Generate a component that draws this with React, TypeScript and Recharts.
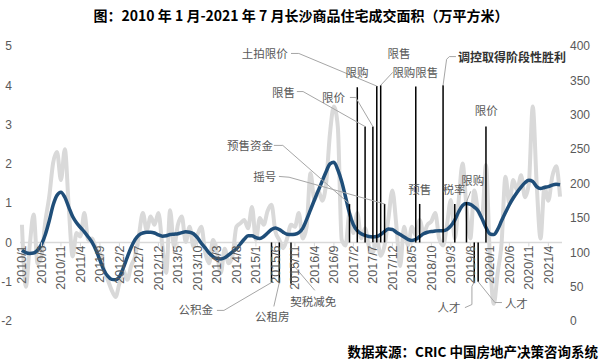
import React from 'react';
import { ComposedChart, Line, XAxis, YAxis, ReferenceLine, ReferenceDot } from 'recharts';

// monthly volume, 2010/1 - 2021/7 (right axis, 万平方米)
const volume = [
  140, 50, 110, 155, 84, 95, 145, 181, 230, 246, 205, 250,
  166, 94, 128, 123, 157, 118, 120, 105, 99, 75, 60, 45,
  35, 55, 74, 60, 80, 94, 125, 157, 132, 152, 140, 157,
  110, 70, 161, 108, 140, 152, 115, 137, 108, 125, 137, 100,
  84, 118, 99, 70, 105, 84, 95, 137, 142, 147, 135, 166,
  118, 150, 140, 160, 169, 130, 118, 106, 120, 140, 137, 157,
  120, 137, 215, 176, 190, 175, 200, 273, 312, 283, 118, 110,
  157, 128, 157, 120, 135, 108, 100, 120, 95, 110, 150, 190,
  140, 80, 137, 110, 137, 125, 147, 128, 140, 145, 157, 120,
  110, 140, 176, 120, 175, 229, 166, 120, 190, 160, 152, 227,
  94, 25, 70, 113, 210, 170, 205, 190, 212, 180, 200, 312,
  200, 120, 195, 175, 210, 225, 181,
];

// smoothed trend (left axis)
const trend = [
  -0.2, -0.26, -0.28, -0.27, -0.2, -0.05, 0.2, 0.55, 0.95, 1.2, 1.28, 1.15,
  0.9, 0.66, 0.5, 0.38, 0.27, 0.14, 0.0, -0.2, -0.45, -0.7, -0.86, -0.94,
  -0.95, -0.87, -0.65, -0.38, -0.13, 0.07, 0.19, 0.24, 0.26, 0.26, 0.24, 0.19,
  0.16, 0.17, 0.2, 0.21, 0.22, 0.25, 0.27, 0.26, 0.22, 0.12, -0.02, -0.14,
  -0.27, -0.36, -0.41, -0.42, -0.39, -0.32, -0.24, -0.16, -0.04, 0.08, 0.17, 0.17,
  0.12, 0.1, 0.15, 0.24, 0.33, 0.37, 0.33, 0.26, 0.21, 0.2, 0.21, 0.25,
  0.36, 0.58, 0.83, 1.08, 1.32, 1.56, 1.8, 2.0, 2.04, 1.85, 1.55, 1.15,
  0.74, 0.45, 0.3, 0.22, 0.18, 0.15, 0.14, 0.15, 0.2, 0.28, 0.34, 0.33,
  0.26, 0.2, 0.14, 0.08, 0.05, 0.08, 0.15, 0.22, 0.26, 0.28, 0.29, 0.3,
  0.3, 0.33, 0.42, 0.57, 0.78, 0.94, 0.99, 0.97, 0.9, 0.8, 0.6, 0.38,
  0.22, 0.2, 0.33, 0.55, 0.76, 0.96, 1.13, 1.28, 1.41, 1.52, 1.58, 1.55,
  1.42, 1.37, 1.4, 1.42, 1.46, 1.48, 1.47,
];

const tickLabels = [
  '2010/1', '2010/6', '2010/11', '2011/4', '2011/9', '2012/2', '2012/7',
  '2012/12', '2013/5', '2013/10', '2014/3', '2014/8', '2015/1', '2015/6',
  '2015/11', '2016/4', '2016/9', '2017/2', '2017/7', '2017/12', '2018/5',
  '2018/10', '2019/3', '2019/8', '2020/1', '2020/6', '2020/11', '2021/4',
];
const tickMonths = tickLabels.map((_, k) => k * 5);

// policy events: month index and how far the marker goes (left axis units)
const eventMonths = [64, 66, 69, 84, 86, 88, 90, 91, 92, 93, 101, 102, 108, 111, 114, 116, 117, 119];
const eventEnds = [-1.02, -1.02, -1.05, 0.98, 3.95, 2.95, 2.95, 3.98, 4.0, 0.98, 3.97, 0.98, 4.0, 0.98, 1.03, -1.0, -1.0, 2.95];

type Note = { text: string; x: number; y: number; anchor?: string; strong?: boolean; leader?: number[][] };
const notes: Note[] = [
  { text: '土拍限价', x: 62.3, y: 4.81, leader: [[69.0, 4.81], [71.0, 4.81], [91, 3.98]] },
  { text: '限售', x: 67.1, y: 3.84, leader: [[70.5, 3.84], [72.1, 3.84], [88, 2.95]] },
  { text: '预售资金', x: 58.5, y: 2.47, leader: [[64.6, 2.47], [66.9, 2.47], [84, 0.98]] },
  { text: '摇号', x: 62.3, y: 1.68, leader: [[65.9, 1.68], [68.5, 1.66], [93, 0.98]] },
  { text: '限价', x: 79.9, y: 3.69, leader: [[84.1, 3.69], [85.6, 3.69], [90, 2.95]] },
  { text: '限购', x: 85.9, y: 4.33 },
  { text: '限售', x: 96.7, y: 4.81 },
  { text: '限购限售', x: 100.9, y: 4.35, leader: [[92, 4.0], [95.1, 4.33]] },
  { text: '调控取得阶段性胜利', x: 111.8, y: 4.73, anchor: 'start', strong: true, leader: [[108, 4.0], [108.9, 4.66], [109.6, 4.73], [111.3, 4.73]] },
  { text: '预售', x: 102, y: 1.35 },
  { text: '税率', x: 110.8, y: 1.35 },
  { text: '限购', x: 115.6, y: 1.58, leader: [[115.1, 1.3], [114, 1.03]] },
  { text: '限价', x: 119.1, y: 3.38 },
  { text: '公积金', x: 44.6, y: -1.7, leader: [[50, -1.73], [51.8, -1.73], [64, -1.02]] },
  { text: '公租房', x: 64.2, y: -1.86, leader: [[64.6, -1.63], [66, -1.02]] },
  { text: '契税减免', x: 74.7, y: -1.48, leader: [[69, -0.51], [75.1, -1.22]] },
  { text: '人才', x: 109.5, y: -1.65, leader: [[116, -1.0], [115.4, -1.12], [115.4, -1.58], [113.6, -1.66]] },
  { text: '人才', x: 126.8, y: -1.53, leader: [[117, -1.0], [121.3, -1.53], [123.1, -1.53]] },
];

const rows = volume.map((v, i) => ({ i, vol: v, trend: trend[i] }));

const TOP = 46;
const PLOT_H = 275;
const CJK = '"Noto Sans CJK SC", sans-serif';
const LATIN = '"Liberation Sans", Arial, sans-serif';

function MonthTick(props: any) {
  const { x, payload } = props;
  const zeroY = TOP + (PLOT_H * 5) / 7;
  const label = tickLabels[tickMonths.indexOf(payload.value)];
  const ty = zeroY + 3;
  return (
    <g>
      <line x1={x} x2={x} y1={zeroY} y2={zeroY + 4} stroke="#d9d9d9" />
      <text x={x} y={ty} transform={`rotate(-90 ${x} ${ty})`} textAnchor="end" dy="0.35em"
        fontSize={12.5} fill="#595959" fontFamily={LATIN}>{label}</text>
    </g>
  );
}

export default function App() {
  return (
    <div style={{ position: 'absolute', left: 0, top: 0, width: 602, height: 360, background: '#fff' }}>
      <div style={{ position: 'absolute', left: 0, top: 5, width: 602, textAlign: 'center', fontFamily: CJK, fontWeight: 700, fontSize: 14, color: '#000' }}>
        图：2010 年 1 月-2021 年 7 月长沙商品住宅成交面积（万平方米）
      </div>
      <ComposedChart width={602} height={360} data={rows} margin={{ top: TOP, right: 0, left: 0, bottom: 9 }}>
        <XAxis dataKey="i" type="number" domain={[-0.5, 138.5]} ticks={tickMonths} height={30}
          axisLine={false} tickLine={false} tick={<MonthTick />} interval={0} />
        <YAxis yAxisId="left" domain={[-2, 5]} ticks={[-2, -1, 0, 1, 2, 3, 4, 5]} width={20}
          axisLine={false} tickLine={false} tick={{ fontSize: 12, fill: '#595959', fontFamily: LATIN }} />
        <YAxis yAxisId="right" orientation="right" domain={[0, 400]} ticks={[0, 50, 100, 150, 200, 250, 300, 350, 400]} width={40}
          axisLine={false} tickLine={false} tick={{ fontSize: 12, fill: '#595959', fontFamily: LATIN }} />
        <ReferenceLine yAxisId="left" y={0} stroke="#d9d9d9" strokeWidth={1.5} />
        <Line yAxisId="right" dataKey="vol" type="monotone" stroke="#d9d9d9" strokeWidth={4} dot={false} isAnimationActive={false} />
        <Line yAxisId="left" dataKey="trend" type="monotone" stroke="#1f4e79" strokeWidth={3.5} dot={false} isAnimationActive={false} />
        {eventMonths.map((m, k) => (
          <ReferenceLine key={'ev' + k} yAxisId="left" stroke="#000" strokeWidth={1.5}
            segment={[{ x: m, y: 0 }, { x: m, y: eventEnds[k] }]} />
        ))}
        {notes.flatMap((n, k) =>
          (n.leader || []).slice(1).map((p, j) => {
            const a = n.leader![j];
            return (
              <ReferenceLine key={'ld' + k + '-' + j} yAxisId="left" stroke="#a6a6a6" strokeWidth={1}
                segment={[{ x: a[0], y: a[1] }, { x: p[0], y: p[1] }]} />
            );
          })
        )}
        {notes.map((n, k) => (
          <ReferenceDot key={'nt' + k} yAxisId="left" x={n.x} y={n.y} r={0}
            shape={(p: any) => (
              <text x={p.cx} y={p.cy} textAnchor={n.anchor || 'middle'} dominantBaseline="central"
                fontFamily={CJK} fontSize={n.strong ? 12 : 11.5} fontWeight={n.strong ? 600 : 400}
                fill={n.strong ? '#333' : '#595959'}>{n.text}</text>
            )} />
        ))}
      </ComposedChart>
      <div style={{ position: 'absolute', right: 4, top: 341, fontFamily: CJK, fontWeight: 700, fontSize: 13.5, color: '#000' }}>
        数据来源：CRIC 中国房地产决策咨询系统
      </div>
    </div>
  );
}
